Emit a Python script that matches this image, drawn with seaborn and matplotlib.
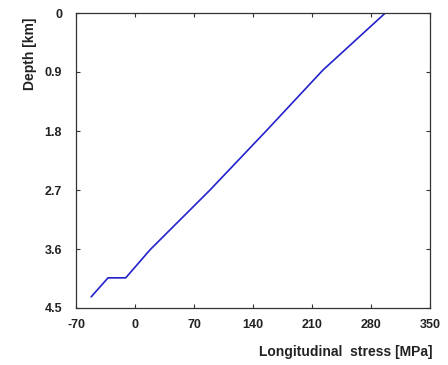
import matplotlib
matplotlib.use("Agg")
import matplotlib.pyplot as plt
import seaborn as sns
import pandas as pd

stress = [297, 223, 157, 89, 18, -11, -32, -52]
depth = [0.0, 0.87, 1.78, 2.70, 3.61, 4.04, 4.04, 4.33]
xticks = [-70, 0, 70, 140, 210, 280, 350]
yticks = [0, 0.9, 1.8, 2.7, 3.6, 4.5]

sns.set_style("ticks")
plt.rcParams['font.family'] = ['Liberation Sans', 'DejaVu Sans']

df = pd.DataFrame({"stress": stress, "depth": depth})

fig = plt.figure(figsize=(4.48, 3.65), dpi=100)
ax = fig.add_axes([76/448, 57/365, (430-76)/448, (308-13)/365])
sns.lineplot(data=df, x="stress", y="depth", sort=False, estimator=None,
             color="#2222cc", linewidth=1.2, ax=ax)

ax.set_xlim(-70, 350)
ax.set_ylim(4.5, 0)
ax.set_xticks(xticks)
ax.set_yticks(yticks)
ax.set_xticklabels([str(v) for v in xticks])
ax.set_yticklabels([f"{v:g}" for v in yticks])
for lab in ax.get_xticklabels() + ax.get_yticklabels():
    lab.set_fontweight("bold")
    lab.set_fontsize(9)
    lab.set_color("#222222")
ax.tick_params(direction="in", length=3, width=0.8, color="#333333",
               top=True, right=True)
ax.tick_params(axis="x", pad=8)
ax.tick_params(axis="y", pad=10)
for s in ax.spines.values():
    s.set_visible(True)
    s.set_color("#333333")
    s.set_linewidth(0.9)

ax.set_xlabel("")
ax.set_ylabel("")
fig.text(432/448, 1 - 352/365, "Longitudinal  stress [MPa]", ha="right", va="center",
         fontsize=10, fontweight="bold", color="#222222")
fig.text(30/448, 1 - 54/365, "Depth [km]", ha="center", va="center", rotation=90,
         fontsize=10, fontweight="bold", color="#222222")

fig.savefig("out.png", dpi=100)
